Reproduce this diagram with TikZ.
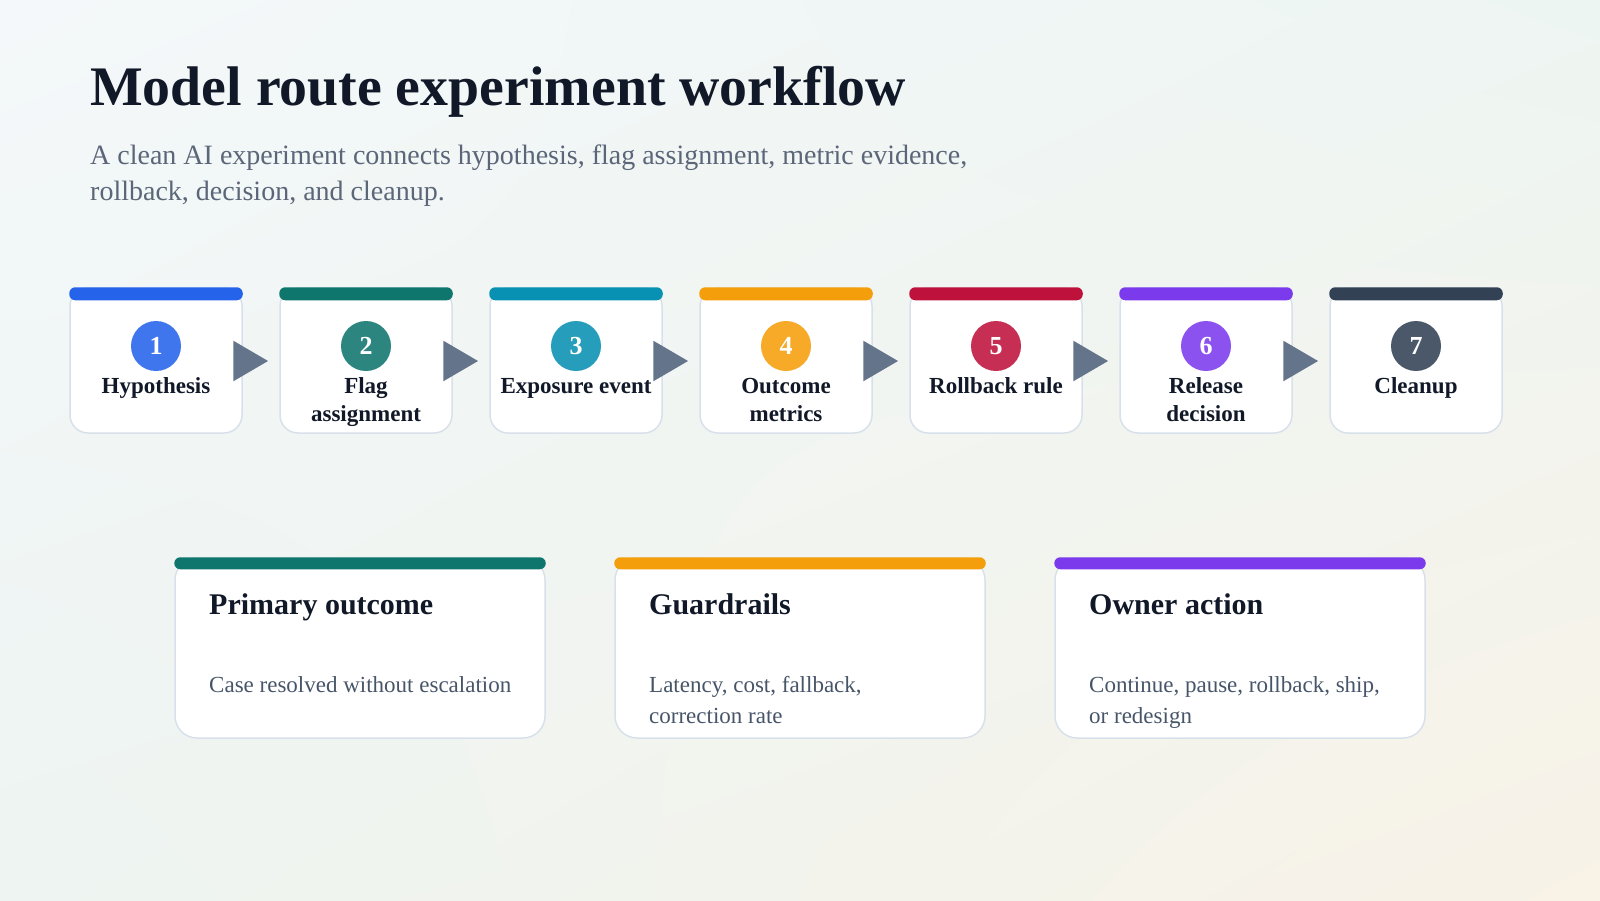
\documentclass[tikz,border=0pt]{standalone}
\usepackage{fontspec}
\setmainfont{Liberation Serif}
\usetikzlibrary{arrows.meta,shadings}
\definecolor{ink}{HTML}{111827}
\definecolor{subc}{HTML}{5B6678}
\definecolor{bodyc}{HTML}{475569}
\definecolor{edge}{HTML}{D8E1EB}
\definecolor{arrowc}{HTML}{64748B}
\definecolor{cA}{HTML}{2563EB}
\definecolor{cB}{HTML}{0F766E}
\definecolor{cC}{HTML}{0891B2}
\definecolor{cD}{HTML}{F59E0B}
\definecolor{cE}{HTML}{BE123C}
\definecolor{cF}{HTML}{7C3AED}
\definecolor{cG}{HTML}{334155}
\definecolor{bgUL}{HTML}{F4F8FA}
\definecolor{bgUR}{HTML}{EDF5F2}
\definecolor{bgLL}{HTML}{EDF4F1}
\definecolor{bgLR}{HTML}{F8F2E7}
\tikzset{
  stepbox/.style={draw=edge, line width=1.5pt, fill=white, rounded corners=18pt,
    minimum width=172pt, minimum height=145pt, inner sep=0pt},
  cardbox/.style={draw=edge, line width=1.5pt, fill=white, rounded corners=22pt,
    minimum width=370pt, minimum height=180pt, inner sep=0pt},
  numdot/.style={circle, minimum size=50pt, inner sep=0pt, text=white,
    font=\fontsize{26}{28}\selectfont\bfseries},
  steplabel/.style={anchor=base, text=ink, inner sep=0pt,
    font=\fontsize{23}{27}\selectfont\bfseries},
  cardtitle/.style={anchor=base west, text=ink, inner sep=0pt,
    font=\fontsize{30}{32}\selectfont\bfseries},
  cardbody/.style={anchor=base west, text=bodyc, inner sep=0pt,
    font=\fontsize{23}{30}\selectfont},
  conn/.style={draw=arrowc, line width=6pt,
    -{Triangle[length=35pt,width=39pt]}}
}
\begin{document}
\begin{tikzpicture}[x=1pt,y=-1pt]
\useasboundingbox (0,0) rectangle (1600,900);
\shade[upper left=bgUL, upper right=bgUR, lower left=bgLL, lower right=bgLR]
  (0,0) rectangle (1600,900);

\node[anchor=base west, text=ink, inner sep=0pt, font=\fontsize{55.8}{60}\selectfont\bfseries]
  (title) at (90,105) {Model route experiment workflow};
\node[anchor=base west, text=subc, inner sep=0pt, font=\fontsize{28}{36}\selectfont]
  (sub1) at (90,164) {A clean AI experiment connects hypothesis, flag assignment, metric evidence,};
\node[anchor=base west, text=subc, inner sep=0pt, font=\fontsize{28}{36}\selectfont]
  (sub2) at (90,200) {rollback, decision, and cleanup.};

% step boxes
\foreach \i/\c in {1/cA,2/cB,3/cC,4/cD,5/cE,6/cF,7/cG}{
  \pgfmathsetmacro{\cx}{156+(\i-1)*210}
  \node[stepbox] (s\i) at (\cx,360.5) {};
  \fill[\c, rounded corners=6pt] (s\i.north west) rectangle ([yshift=-13pt]s\i.north east);
  \node[numdot, fill=\c!88!white] (n\i) at (\cx,346) {\i};
}
\node[steplabel] (l1) at (156,393) {Hypothesis};
\node[steplabel] (l2a) at (366,393) {Flag};
\node[steplabel] (l2b) at (366,421) {assignment};
\node[steplabel] (l3) at (576,393) {Exposure event};
\node[steplabel] (l4a) at (786,393) {Outcome};
\node[steplabel] (l4b) at (786,421) {metrics};
\node[steplabel] (l5) at (996,393) {Rollback rule};
\node[steplabel] (l6a) at (1206,393) {Release};
\node[steplabel] (l6b) at (1206,421) {decision};
\node[steplabel] (l7) at (1416,393) {Cleanup};

% connectors
\foreach \a/\b in {1/2,2/3,3/4,4/5,5/6,6/7}{
  \draw[conn] ([yshift=-0.5pt]s\a.east) -- ([xshift=-11pt,yshift=-0.5pt]s\b.west);
}

% cards
\foreach \i/\c in {1/cB,2/cD,3/cF}{
  \pgfmathsetmacro{\cx}{360+(\i-1)*440}
  \node[cardbox] (c\i) at (\cx,648) {};
  \fill[\c, rounded corners=6pt] (c\i.north west) rectangle ([yshift=-12pt]c\i.north east);
}
\node[cardtitle] (t1) at (209,614) {Primary outcome};
\node[cardbody] (b1) at (209,692) {Case resolved without escalation};
\node[cardtitle] (t2) at (649,614) {Guardrails};
\node[cardbody] (b2a) at (649,692) {Latency, cost, fallback,};
\node[cardbody] (b2b) at (649,723) {correction rate};
\node[cardtitle] (t3) at (1089,614) {Owner action};
\node[cardbody] (b3a) at (1089,692) {Continue, pause, rollback, ship,};
\node[cardbody] (b3b) at (1089,723) {or redesign};
\end{tikzpicture}
\end{document}
